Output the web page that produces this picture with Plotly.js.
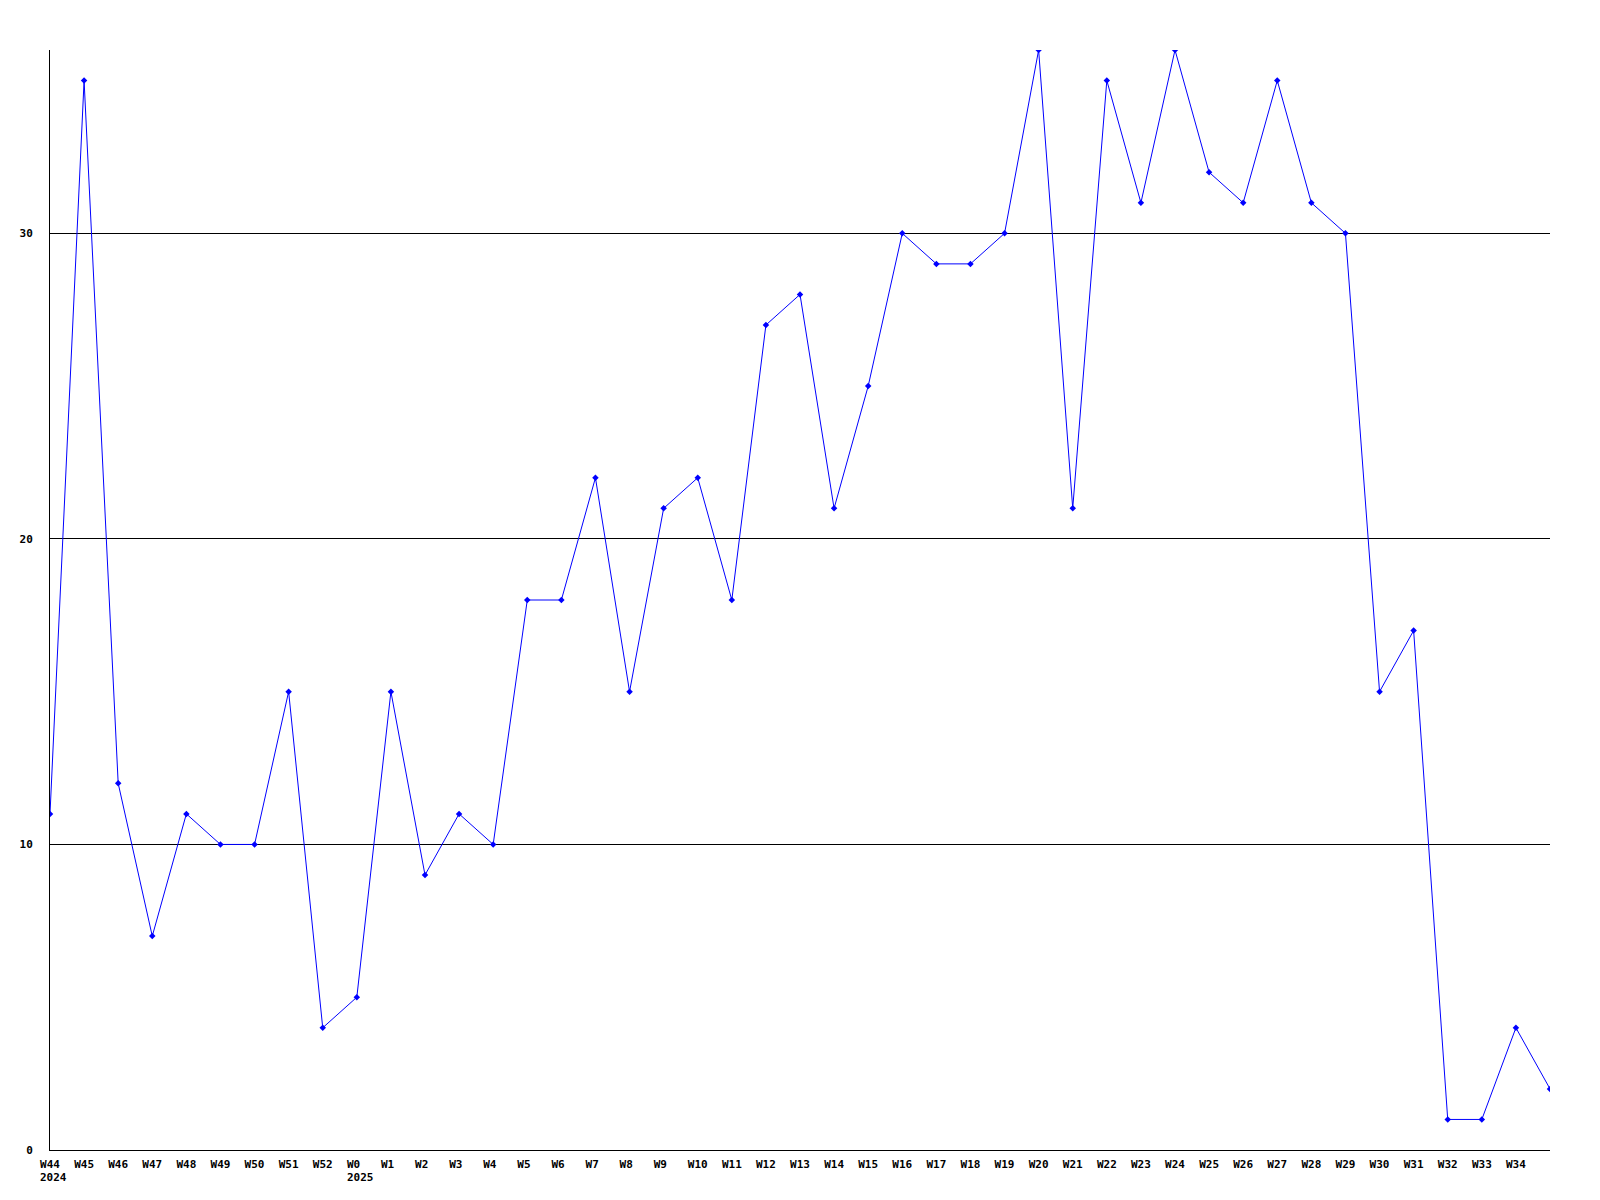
<!DOCTYPE html>
<html>
<head>
<meta charset="utf-8">
<script src="https://cdn.plot.ly/plotly-3.0.1.min.js"></script>
<style>html,body{margin:0;padding:0;background:#fff;}#chart{width:1600px;height:1200px;}</style>
</head>
<body>
<div id="chart"></div>
<script>
const weeks = ["W44","W45","W46","W47","W48","W49","W50","W51","W52","W0","W1","W2","W3","W4","W5","W6","W7","W8","W9","W10","W11","W12","W13","W14","W15","W16","W17","W18","W19","W20","W21","W22","W23","W24","W25","W26","W27","W28","W29","W30","W31","W32","W33","W34","W35"];
const yearWeeks = ["W44","W0"];
const yearLabels = ["2024","2025"];
const values = [11,35,12,7,11,10,10,15,4,5,15,9,11,10,18,18,22,15,21,22,18,27,28,21,25,30,29,29,30,36,21,35,31,36,32,31,35,31,30,15,17,1,1,4,2];
const yTicks = [0,10,20,30];

const xIdx = weeks.map((w,i)=>i);
const shownIdx = xIdx.slice(0, weeks.length-1);
const shownText = shownIdx.map(i => weeks[i].length < 3 ? weeks[i] + "\u00a0" : weeks[i]);

const font = {family: "DejaVu Sans Mono, monospace", size: 11, color: "#000", weight: "bold"};

const annotations = yearWeeks.map((w, k) => ({
  x: weeks.indexOf(w), xref: "x", y: 0, yref: "paper",
  text: yearLabels[k], showarrow: false,
  xanchor: "left", yanchor: "top", xshift: -11, yshift: -20,
  font: font, borderpad: 0
}));

Plotly.newPlot("chart", [{
  x: xIdx, y: values, type: "scatter", mode: "lines+markers",
  line: {color: "#0000ff", width: 1},
  marker: {color: "#0000ff", size: 5, symbol: "diamond"},
  hoverinfo: "skip"
}], {
  width: 1600, height: 1200,
  margin: {l: 50, r: 50, t: 50, b: 50, pad: 0},
  paper_bgcolor: "#fff", plot_bgcolor: "#fff",
  showlegend: false,
  font: font,
  annotations: annotations,
  xaxis: {
    range: [0, 44], tickvals: shownIdx, ticktext: shownText,
    showgrid: false, zeroline: false, showline: true, linecolor: "#000", linewidth: 1,
    ticks: "", ticklabelstandoff: 4, tickfont: font, fixedrange: true
  },
  yaxis: {
    range: [0, 36], tickvals: yTicks, ticktext: yTicks.map(String),
    showgrid: true, gridcolor: "#000", gridwidth: 1, zeroline: false,
    showline: true, linecolor: "#000", linewidth: 1,
    ticks: "", ticklabelstandoff: 14, tickfont: font, fixedrange: true
  }
}, {staticPlot: true});
</script>
</body>
</html>
